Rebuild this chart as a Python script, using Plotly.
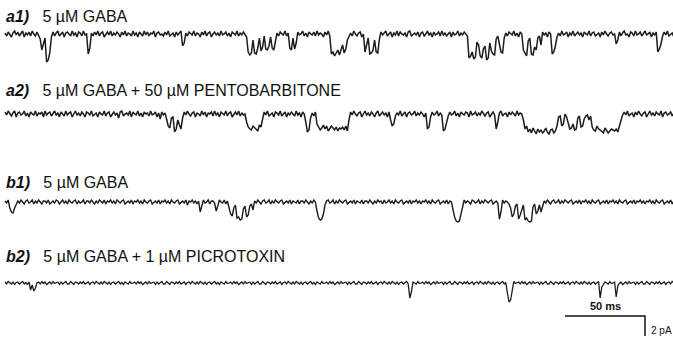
import plotly.graph_objects as go

# Sampling interval of the digitised sweeps (ms)
SAMPLE_MS = 1

# Single-channel currents (pA, relative to closed baseline; negative = channel opening)
trace_a1 = [
    0.1,-0.2,0.2,0.0,-0.3,0.1,0.3,-0.1,0.2,-0.2,0.0,0.3,-0.3,0.1,-0.1,0.2,-0.2,0.3,0.0,-0.2,
    0.2,-0.1,-0.5,-1.6,-1.0,-0.4,-2.8,-2.6,-1.9,-0.3,0.2,-0.2,0.1,0.3,-0.2,0.0,0.2,-0.3,0.1,0.2,
    0.0,-0.2,0.3,-0.1,0.1,-0.3,0.2,0.1,-0.2,0.3,-0.1,0.0,-2.0,-1.4,0.1,-0.2,0.2,-0.1,0.3,-0.2,
    0.1,0.2,-0.3,0.0,0.2,-0.1,0.3,-0.2,0.1,-0.1,0.2,0.0,-0.3,0.2,-0.1,0.3,-0.2,0.1,0.0,-0.2,
    0.3,-0.1,0.1,-0.3,0.2,0.0,-0.2,0.3,-0.1,0.2,-0.2,0.1,0.0,0.3,-0.3,0.1,0.2,-0.1,0.0,-0.2,
    0.2,-0.1,0.3,-0.2,0.0,0.1,-0.3,0.2,-0.1,0.1,0.3,-1.2,-0.9,0.1,-0.2,0.2,0.0,-0.1,0.3,-0.2,
    0.1,0.0,-0.3,0.2,-0.1,0.3,-0.2,0.1,0.2,-0.3,0.0,0.2,-0.1,0.1,-0.2,0.3,-0.1,0.0,0.2,-0.2,
    0.1,-0.3,0.2,0.0,-0.1,0.3,-0.2,0.1,-0.1,0.2,0.0,-0.3,-1.8,-2.1,-1.9,-0.6,-1.9,-2.0,-1.4,-0.4,
    -1.7,-1.3,-0.2,-1.5,-1.6,-1.2,-0.3,-1.4,-1.6,-0.5,0.1,-0.2,0.2,0.0,-0.1,0.3,-0.2,0.1,-1.4,-1.6,
    -0.4,-1.5,-0.9,0.2,-0.1,0.0,0.3,-0.2,0.1,-0.3,0.2,0.0,-0.1,0.2,-0.2,0.3,-0.1,0.1,0.0,-0.3,
    0.2,-0.1,0.3,-0.2,-2.0,-1.8,-2.2,-1.9,-1.6,-2.1,-1.7,-1.1,-1.9,-1.5,-0.6,-0.2,0.1,-0.2,0.3,0.0,
    -0.2,0.1,0.2,-0.3,0.0,-1.8,-1.2,-0.4,-2.0,-1.9,-1.6,-0.6,-1.8,-1.9,-0.5,0.2,-0.1,0.1,0.3,-0.2,
    0.0,0.2,-0.3,0.1,-0.1,0.3,-0.2,0.2,0.0,-0.1,0.1,-0.3,0.2,0.3,-0.2,0.0,0.1,-0.1,0.2,-0.3,
    0.1,0.2,-0.2,0.0,0.3,-0.1,0.1,-0.3,0.2,-0.1,0.0,0.2,-0.2,0.3,-0.1,0.1,-0.2,0.0,0.2,-0.3,
    0.2,-0.1,0.0,0.3,-0.2,0.1,-0.1,0.2,0.0,-0.2,-2.4,-2.2,-1.8,-2.5,-2.3,-0.8,-1.1,-2.2,-2.4,-1.5,
    -1.2,-2.6,-2.4,-0.9,-1.7,-2.0,-2.1,-0.5,-0.2,-1.0,-1.8,-1.9,-0.4,0.1,-0.2,0.2,0.0,-0.1,0.3,-0.2,
    0.1,-0.3,0.2,0.0,-1.6,-1.9,-2.2,-0.7,-0.4,-2.0,-2.1,-1.3,-1.6,-0.4,-0.2,-1.1,0.2,-0.1,0.1,-0.3,
    0.2,0.0,-2.0,-1.8,-1.2,-0.3,0.1,-0.2,0.3,-0.1,0.0,0.2,-0.3,0.1,-0.1,0.3,-0.2,0.0,0.2,-0.1,
    0.1,-0.3,0.2,0.0,-0.1,0.3,-0.2,0.1,0.2,-0.2,0.0,0.1,-0.3,0.2,-0.1,0.3,0.0,-0.2,0.1,0.2,
    -0.1,0.0,-1.0,-0.6,0.2,-0.2,0.1,0.3,-0.1,0.0,-0.3,0.2,0.1,-0.2,0.3,-0.1,0.0,0.2,-0.2,0.1,
    0.3,-0.1,0.0,0.2,-0.3,0.1,-0.1,0.2,-1.8,-1.5,-1.0,-0.2,0.2,-0.1,0.3,-0.2,0.0,0.1,-0.3,0.2,
    -0.1]

trace_a2 = [
    0.2,-0.1,0.3,0.0,-0.2,0.1,0.3,-0.3,0.1,0.2,-0.1,0.0,0.3,-0.2,0.1,-0.3,0.2,0.0,-0.1,0.3,
    -0.2,0.1,0.0,0.2,-0.3,0.3,-0.1,0.1,0.2,-0.2,0.0,0.3,-0.1,0.1,-0.3,0.2,0.0,-0.2,0.3,-0.1,
    0.1,0.2,-0.3,0.0,0.3,-0.1,0.1,-0.2,0.2,0.0,-0.3,0.2,0.1,-0.1,0.3,-0.2,0.0,0.1,-0.3,0.2,
    0.0,-0.1,0.3,-0.2,0.1,0.2,-0.3,0.0,0.2,-0.1,0.1,-0.4,0.2,0.3,-0.2,0.0,0.1,-0.1,0.3,-0.3,
    0.2,0.0,-0.1,0.3,-0.2,0.1,-0.3,0.2,0.0,0.1,-0.2,0.3,-0.1,0.0,0.2,-0.3,0.1,-0.5,0.2,-0.1,
    0.1,-0.5,-1.2,-1.4,-0.4,-0.3,-1.8,-1.5,-0.6,-1.1,-1.5,-0.4,0.2,-0.1,0.3,0.0,-0.2,0.1,0.2,-0.3,
    0.1,0.0,-0.2,0.3,-0.1,0.2,-0.3,0.1,0.0,0.2,-0.2,0.3,-0.1,0.1,-0.3,0.2,0.0,-0.1,0.3,-0.2,
    0.1,0.2,-0.3,0.0,0.2,-0.1,0.3,-0.2,0.1,-0.1,0.0,-0.8,-1.3,-1.5,-1.6,-1.2,-1.4,-1.5,-1.7,-1.1,
    -1.3,-0.5,0.2,-0.1,0.3,-0.2,0.0,0.1,-0.3,0.2,0.1,-0.1,0.3,-0.2,0.0,0.2,-0.3,0.1,-0.1,0.2,
    0.0,-0.2,0.3,-0.1,0.1,-0.3,0.2,0.0,-0.8,-1.8,-1.6,-0.4,0.1,-0.2,0.2,-1.0,-1.3,-1.6,-1.4,-1.1,
    -1.5,-1.2,-1.7,-1.5,-1.2,-1.4,-1.6,-1.3,-1.7,-1.4,-1.5,-1.3,-1.6,-1.2,-1.7,-0.6,0.2,-0.1,0.3,0.0,
    -0.2,0.1,0.2,-0.3,0.0,0.3,-0.1,0.1,-0.2,0.2,0.0,-0.3,0.1,0.3,-0.2,0.0,0.2,-0.1,0.1,-0.3,
    0.2,-0.6,-1.2,-1.0,-0.2,0.1,-0.1,0.3,-0.2,0.0,0.2,-0.3,0.1,0.2,-0.1,0.0,0.3,-0.2,0.1,-0.1,
    0.2,0.0,-0.3,0.1,-1.5,-1.3,-0.3,0.2,-0.1,0.0,0.3,-0.2,0.1,-0.1,-1.7,-1.5,-0.8,-0.2,0.2,-0.1,
    0.0,0.3,-0.2,0.1,-0.3,0.2,0.0,-0.1,0.2,0.1,-0.3,0.3,-0.1,0.0,0.2,-0.2,0.1,-0.1,0.3,0.0,
    -0.2,0.1,0.2,-0.3,0.0,0.2,-0.1,-1.5,-0.8,0.1,0.3,-0.2,0.0,0.1,-0.3,0.2,-0.1,0.2,0.0,-0.2,
    0.3,-0.1,0.1,0.0,-0.6,-1.5,-1.2,-1.8,-1.5,-1.9,-1.4,-1.7,-2.0,-1.5,-1.8,-1.6,-1.9,-1.7,-1.4,-1.8,
    -2.0,-1.6,-1.5,-1.9,-1.7,-1.2,-0.3,-0.2,-1.2,-1.0,0.0,-0.3,-0.8,-1.5,-1.4,-1.0,-1.6,-1.5,-0.4,-0.2,
    -1.3,-1.2,-0.5,-0.2,-0.1,-0.6,-0.2,-1.3,-1.6,-1.7,-1.2,-1.5,-1.6,-1.8,-1.9,-1.4,-1.6,-1.9,-1.7,-1.5,
    -1.6,-1.7,-1.5,-1.8,-1.2,-0.6,-0.1,0.2,-0.1,0.3,-0.2,0.0,0.1,-0.3,0.2,-0.1,0.3,0.0,-0.2,0.1,
    0.2,-0.3,0.0,0.3,-0.1,0.1,-0.2,0.2,0.0,-0.1,0.3,-0.3,0.1,0.2,-0.1,0.0,0.2,-0.2,0.1,0.3,
    -0.1]

trace_b1 = [
    0.1,-0.1,0.2,-0.6,-1.0,-1.1,-0.6,-0.2,0.1,-0.1,0.2,0.0,-0.2,0.1,0.2,-0.1,0.0,0.2,-0.2,0.1,
    -0.1,0.2,0.0,-0.2,0.1,0.1,-0.1,0.2,-0.2,0.0,0.1,-0.1,0.2,0.1,-0.2,0.0,0.2,-0.1,0.1,-0.2,
    0.2,0.0,-0.1,0.1,0.2,-0.2,0.1,-0.1,0.0,0.2,-0.2,0.1,0.1,-0.1,0.2,0.0,-0.2,0.1,-0.1,0.2,
    0.0,-0.1,0.2,-0.2,0.1,0.0,0.2,-0.1,0.1,-0.2,0.2,0.0,-0.1,0.1,0.2,-0.2,0.0,0.1,-0.1,0.2,
    -0.2,0.1,0.0,0.2,-0.1,0.1,-0.2,0.2,0.0,-0.1,0.1,0.2,-0.2,0.0,0.1,-0.1,0.2,-0.2,0.1,0.0,
    0.2,-0.1,0.1,-0.2,0.2,0.0,-0.1,0.1,0.2,-0.2,0.0,0.1,-0.1,0.2,-0.3,0.1,0.0,0.2,-0.1,0.1,
    -0.2,0.1,-1.0,-0.5,0.2,-0.1,0.0,0.2,-0.2,0.1,0.1,-0.1,-0.9,-0.4,0.2,0.0,-0.1,0.2,-0.2,0.1,
    -0.5,-1.2,-1.4,-0.6,-0.3,-1.6,-1.5,-1.8,-1.7,-0.7,-0.4,-1.5,-1.3,-0.4,-0.2,-0.8,0.1,-0.1,0.2,0.0,
    -0.2,0.1,0.2,-0.1,0.0,0.2,-0.2,0.1,-0.1,0.2,0.0,-0.1,0.1,0.2,-0.2,0.0,0.1,-0.1,0.2,-0.2,
    0.1,0.0,-0.1,0.2,-0.2,0.1,0.1,-0.1,0.2,0.0,-0.2,0.1,-0.1,0.2,0.0,-0.9,-1.6,-1.8,-1.7,-1.2,
    -0.3,0.1,0.2,-0.1,0.0,0.2,-0.2,0.1,-0.1,0.2,0.0,-0.1,0.1,0.2,-0.2,0.0,0.1,-0.1,0.2,-0.2,
    0.1,0.0,-0.1,0.2,-0.2,0.1,0.1,-0.1,0.2,0.0,-0.2,0.1,-0.1,0.2,0.0,0.1,-0.2,0.2,-0.1,0.0,
    0.2,-0.1,0.1,-0.2,0.2,0.0,-0.1,0.1,0.2,-0.2,0.0,0.1,-0.1,0.2,-0.2,0.1,0.0,0.2,-0.1,0.1,
    -0.2,0.1,0.0,0.2,-0.1,0.1,-0.2,0.2,0.0,-0.1,0.1,0.2,-0.2,0.0,0.1,-0.1,0.2,-0.2,0.1,0.0,
    -0.8,-1.5,-1.9,-2.0,-1.9,-1.2,-0.3,0.2,-0.1,0.1,0.0,-0.2,0.2,0.1,-0.1,0.0,0.2,-0.2,0.1,-0.1,
    0.2,0.0,-0.1,0.1,0.2,-0.2,0.0,0.1,-0.1,-1.7,-1.0,0.2,-0.1,0.1,0.0,-0.2,-0.6,-1.5,-1.2,-0.4,
    -0.2,-1.7,-1.3,-0.8,-0.3,-1.8,-1.6,-1.9,-2.0,-1.9,-0.5,-0.2,-1.2,-0.9,-0.3,-1.0,-0.4,0.1,-0.1,0.2,
    0.0,-0.2,0.1,0.2,-0.1,0.0,0.2,-0.2,0.1,-0.1,0.2,0.0,-0.1,0.1,0.2,-0.2,0.0,0.1,-0.1,0.2,
    -0.2,0.1,0.0,0.2,-0.1,0.1,-0.2,0.2,0.0,-0.1,0.1,0.2,-0.2,0.0,0.1,-0.1,0.2,-0.2,0.1,0.0,
    0.2,-0.1,0.1,-0.2,0.2,0.0,-0.1,0.1,0.2,-0.2,0.0,0.1,-0.1,0.2,-0.2,0.1,0.0,0.2,-0.1,0.1,
    -0.2,0.1,0.0,0.2,-0.1,0.1,-0.2,0.2,0.0,-0.1,0.1,0.2,-0.2,0.0,0.1,-0.1,0.2,-0.2,0.1,0.0,
    0.1]

trace_b2 = [
    0.1,-0.1,0.15,0.0,-0.1,0.1,-0.15,0.05,0.1,-0.1,0.0,0.15,-0.1,0.05,-0.15,0.1,-0.7,-0.2,-0.8,-0.5,
    0.0,0.1,-0.1,0.15,-0.05,0.1,-0.15,0.0,0.1,-0.1,0.15,-0.05,0.0,0.1,-0.15,0.1,-0.1,0.05,0.15,-0.1,
    -0.1,0.15,0.0,-0.15,0.1,0.05,-0.1,0.1,-0.05,0.15,-0.1,0.0,0.1,-0.15,0.05,0.1,-0.1,0.15,0.0,-0.1,
    0.1,-0.1,0.15,0.0,-0.1,0.1,-0.15,0.05,0.1,-0.1,0.0,0.15,-0.1,0.05,-0.15,0.1,0.0,-0.1,0.15,-0.05,
    0.0,0.1,-0.1,0.15,-0.05,0.1,-0.15,0.0,0.1,-0.1,0.15,-0.05,0.0,0.1,-0.15,0.1,-0.1,0.05,0.15,-0.1,
    -0.1,0.15,0.0,-0.15,0.1,0.05,-0.1,0.1,-0.05,0.15,-0.1,0.0,0.1,-0.15,0.05,0.1,-0.1,0.15,0.0,-0.1,
    0.1,-0.1,0.15,0.0,-0.1,0.1,-0.15,0.05,0.1,-0.1,0.0,0.15,-0.1,0.05,-0.15,0.1,0.0,-0.1,0.15,-0.05,
    0.0,0.1,-0.1,0.15,-0.05,0.1,-0.15,0.0,0.1,-0.1,0.15,-0.05,0.0,0.1,-0.15,0.1,-0.1,0.05,0.15,-0.1,
    -0.1,0.15,0.0,-0.15,0.1,0.05,-0.1,0.1,-0.05,0.15,-0.1,0.0,0.1,-0.15,0.05,0.1,-0.1,0.15,0.0,-0.1,
    0.1,-0.1,0.15,0.0,-0.1,0.1,-0.15,0.05,0.1,-0.1,0.0,0.15,-0.1,0.05,-0.15,0.1,0.0,-0.1,0.15,-0.05,
    0.0,0.1,-0.1,0.15,-0.05,0.1,-0.15,0.0,0.1,-0.1,0.15,-0.05,0.0,0.1,-0.15,0.1,-0.1,0.05,0.15,-0.1,
    -0.1,0.15,0.0,-0.15,0.1,0.05,-0.1,0.1,-0.05,0.15,-0.1,0.0,0.1,-0.15,0.05,0.1,-0.1,0.15,0.0,-0.1,
    0.1,-0.1,0.15,0.0,-0.1,0.1,-0.15,0.05,0.1,-0.1,0.0,0.15,-0.1,-1.5,-0.9,0.1,0.0,-0.1,0.15,-0.05,
    0.0,0.1,-0.1,0.15,-0.05,0.1,-0.15,0.0,0.1,-0.1,0.15,-0.05,0.0,0.1,-0.15,0.1,-0.1,0.05,0.15,-0.1,
    -0.1,0.15,0.0,-0.15,0.1,0.05,-0.1,0.1,-0.05,0.15,-0.1,0.0,0.1,-0.15,0.05,0.1,-0.1,0.15,0.0,-0.1,
    0.1,-0.1,0.15,0.0,-0.1,0.1,-0.15,0.05,0.1,-0.1,0.0,0.15,-0.1,0.05,-1.0,-1.9,-1.7,-0.5,0.15,-0.05,
    0.0,0.1,-0.1,0.15,-0.05,0.1,-0.15,0.0,0.1,-0.1,0.15,-0.05,0.0,0.1,-0.15,0.1,-0.1,0.05,0.15,-0.1,
    -0.1,0.15,0.0,-0.15,0.1,0.05,-0.1,0.1,-0.05,0.15,-0.1,0.0,0.1,-0.15,0.05,0.1,-0.1,0.15,0.0,-0.1,
    0.1,-0.1,0.15,0.0,-0.1,0.1,-0.15,0.05,0.1,-0.1,0.0,0.15,-1.5,-0.4,-0.15,0.1,0.0,-0.1,0.15,-0.05,
    0.0,0.1,-1.4,-0.3,-0.05,0.1,-0.15,0.0,0.1,-0.1,0.15,-0.05,0.0,0.1,-0.15,0.1,-0.1,0.05,0.15,-0.1,
    -0.1,0.15,0.0,-0.15,0.1,0.05,-0.1,0.1,-0.05,0.15,-0.1,0.0,0.1,-0.15,0.05,0.1,-0.1,0.15,0.0,-0.1,
    0.1]

panel_labels = ["a1)", "a2)", "b1)", "b2)"]
panel_conditions = ["5 µM GABA",
                    "5 µM GABA + 50 µM PENTOBARBITONE",
                    "5 µM GABA",
                    "5 µM GABA + 1 µM PICROTOXIN"]

scale_ms = 50
scale_pa = 2

# ---- layout (positions / styles) ----
traces = [trace_a1, trace_a2, trace_b1, trace_b2]
offsets = [-3.4, -11.4, -20.2, -28.3]       # vertical stacking of sweeps (pA units)
widths = [1.5, 1.5, 1.4, 1.3]
label_y = [-1.65, -9.05, -18.25, -25.65]

fig = go.Figure()
for tr, off, w in zip(traces, offsets, widths):
    t = [i * SAMPLE_MS for i in range(len(tr))]
    fig.add_trace(go.Scatter(x=t, y=[v + off for v in tr], mode="lines",
                             line=dict(color="#1c1c1c", width=w),
                             hoverinfo="skip", showlegend=False))

for lab, cond, yl in zip(panel_labels, panel_conditions, label_y):
    fig.add_annotation(x=-0.6, y=yl, xref="x", yref="y", xanchor="left", yanchor="middle",
                       text=f"<b><i>{lab}</i></b>&nbsp;&nbsp; {cond}", showarrow=False,
                       font=dict(family="Liberation Sans, Arial", size=16, color="#111"))

# scale bar
bar_x0, bar_y0 = 350, -31.6
fig.add_trace(go.Scatter(x=[bar_x0, bar_x0 + scale_ms, bar_x0 + scale_ms],
                         y=[bar_y0, bar_y0, bar_y0 - scale_pa],
                         mode="lines", line=dict(color="#111", width=1.5),
                         hoverinfo="skip", showlegend=False))
fig.add_annotation(x=bar_x0 + scale_ms / 2, y=bar_y0 + 1.0, xref="x", yref="y",
                   text=f"<b>{scale_ms} ms</b>", showarrow=False, xanchor="center",
                   yanchor="middle",
                   font=dict(family="Liberation Sans Narrow, Liberation Sans, Arial", size=11, color="#111"))
fig.add_annotation(x=bar_x0 + scale_ms + 2.5, y=bar_y0 - 1.4, xref="x", yref="y",
                   text=f"{scale_pa} pA", showarrow=False, xanchor="left", yanchor="middle",
                   font=dict(family="Liberation Sans, Arial", size=10, color="#111"))

fig.update_layout(width=673, height=337, margin=dict(l=0, r=0, t=0, b=0),
                  paper_bgcolor="white", plot_bgcolor="white",
                  xaxis=dict(range=[-3.125, 417.5], visible=False),
                  yaxis=dict(range=[-33.7, 0], visible=False))
fig.write_html("out.html")
